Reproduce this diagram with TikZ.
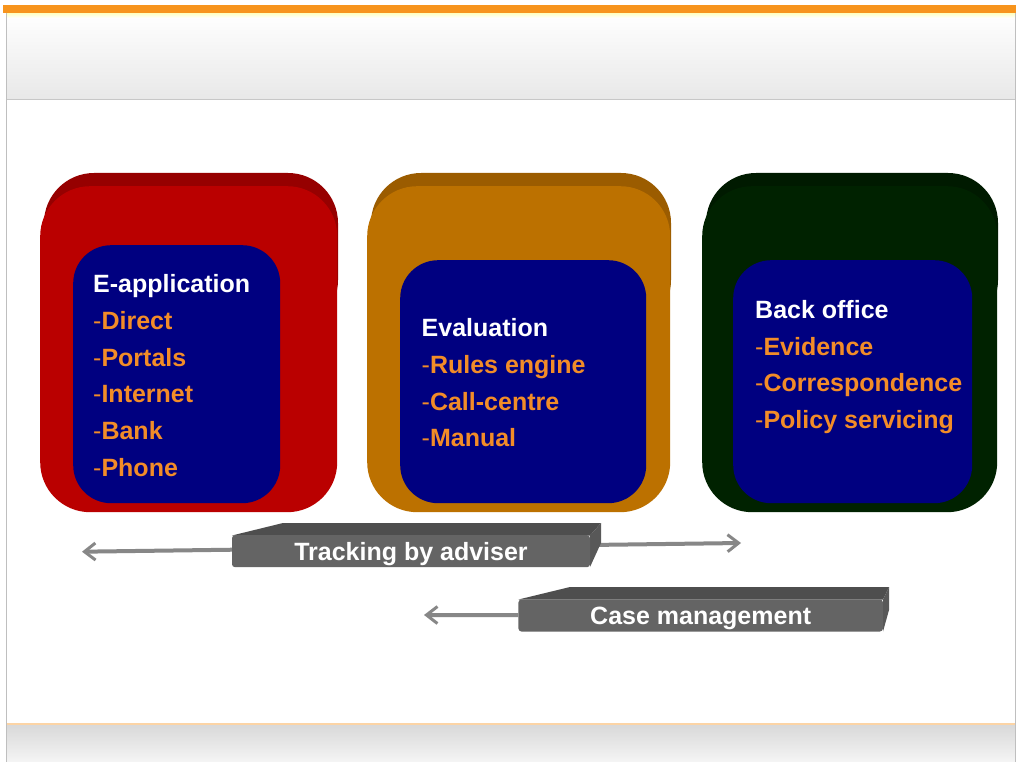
\documentclass[tikz,border=0pt]{standalone}
\usepackage{fontspec}
\setmainfont{Liberation Sans}
\usetikzlibrary{arrows.meta}

\definecolor{barOrange}{RGB}{247,148,29}
\definecolor{stageRed}{RGB}{186,0,0}
\definecolor{stageRedTop}{RGB}{150,0,0}
\definecolor{stageAmber}{RGB}{188,113,0}
\definecolor{stageAmberTop}{RGB}{155,92,0}
\definecolor{stageGreen}{RGB}{0,34,0}
\definecolor{stageGreenTop}{RGB}{0,26,0}
\definecolor{panelBlue}{RGB}{0,0,128}
\definecolor{itemOrange}{RGB}{242,140,40}
\definecolor{barFront}{RGB}{100,100,100}
\definecolor{barTop}{RGB}{78,78,78}
\definecolor{barSide}{RGB}{88,88,88}
\definecolor{trackGray}{RGB}{135,135,135}

\tikzset{
  outerbox/.style={rectangle, rounded corners=50pt, anchor=north west, inner sep=0pt},
  panel/.style={rectangle, rounded corners=38pt, anchor=north west, inner sep=0pt, fill=panelBlue},
  heading/.style={anchor=base west, inner sep=0pt, text=white, font=\fontsize{25}{25}\selectfont\bfseries},
  item/.style={heading, text=itemOrange},
  barbox/.style={rectangle, rounded corners=3pt, fill=barFront, inner sep=0pt, text depth=0pt, text=white, font=\fontsize{25}{25}\selectfont\bfseries},
  trackline/.style={draw=trackGray, line width=4pt, {Straight Barb[length=11pt,width=17pt,line width=3pt]}-{Straight Barb[length=11pt,width=17pt,line width=3pt]}}
}
\newcommand{\itemdash}{{\mdseries -}}

\begin{document}
\begin{tikzpicture}[x=1pt,y=-1pt]
  \useasboundingbox (0,0) rectangle (1019,762);
  % page frame
  \fill[white] (0,0) rectangle (1019,762);
  \shade[top color=white, bottom color=black!9] (6,13) rectangle (1015,99);
  \shade[top color=yellow!25!white, bottom color=white] (6,13) rectangle (1015,18);
  \fill[barOrange] (3,5) rectangle (1016,13);
  \draw[black!22, line width=1.5pt] (6,99.5) -- (1015,99.5);
  \shade[top color=black!15, bottom color=black!4] (6,725) rectangle (1015,762);
  \draw[barOrange!40, line width=2pt] (6,724) -- (1015,724);
  \draw[black!25, line width=1pt] (6.5,13) -- (6.5,762) (1015,13) -- (1015,762);

  % stage boxes
  \foreach \name/\xa/\xb/\front/\back in {eapp/40/337/stageRed/stageRedTop,
      eval/367/670/stageAmber/stageAmberTop,
      office/702/997/stageGreen/stageGreenTop}
  {
    \fill[\back, rounded corners=50pt] (\xa+4,173) rectangle (\xb+1,330);
    \node[outerbox, fill=\front, minimum width={\xb-\xa}, minimum height=326] (\name_outer) at (\xa,186) {};
  }

  % inner panels
  \foreach \name/\xa/\ya/\xb in {eapp/73/245/280, eval/400/260/646, office/733/260/972}
  {
    \node[panel, minimum width={\xb-\xa}, minimum height={503-\ya}] (\name_panel) at (\xa,\ya) {};
  }

  % panel texts
  \node[heading] (eapp_head) at (93,292.7) {E-application};
  \foreach \entry [count=\i] in {Direct,Portals,Internet,Bank,Phone}
    \node[item] (eapp_\i) at (93,{292.7+36.7*\i}) {\itemdash\entry};
  \node[heading] (eval_head) at (421.5,336.7) {Evaluation};
  \foreach \entry [count=\i] in {Rules engine,Call-centre,Manual}
    \node[item] (eval_\i) at (421.5,{336.7+36.7*\i}) {\itemdash\entry};
  \node[heading] (office_head) at (755,318.3) {Back office};
  \foreach \entry [count=\i] in {Evidence,Correspondence,Policy servicing}
    \node[item] (office_\i) at (755,{318.3+36.7*\i}) {\itemdash\entry};

  % tracking bar
  \coordinate (track_left) at (82,551.7);
  \coordinate (track_right) at (741,543);
  \draw[trackline] (track_left) -- (track_right);
  \fill[barTop] (232,535.5) -- (283,523) -- (601,523) -- (590,535.5) -- cycle;
  \fill[barSide] (590,535.5) -- (601,523) -- (601,543) -- (590,567) -- cycle;
  \node[barbox, minimum width=358, minimum height=32] (track_bar) at (411,551.2) {Tracking by adviser};

  % case management bar
  \coordinate (case_left) at (424,615);
  \fill[barTop] (518.5,599.5) -- (570,587) -- (889,587) -- (883,599.5) -- cycle;
  \fill[barSide] (883,599.5) -- (889,587) -- (889,610) -- (883,631.5) -- cycle;
  \node[barbox, minimum width=364.5, minimum height=32] (case_bar) at (700.7,615.5) {Case management};
  \draw[trackline, -{Straight Barb[length=11pt,width=17pt,line width=3pt]}] (case_bar) -- (case_left);
\end{tikzpicture}
\end{document}
